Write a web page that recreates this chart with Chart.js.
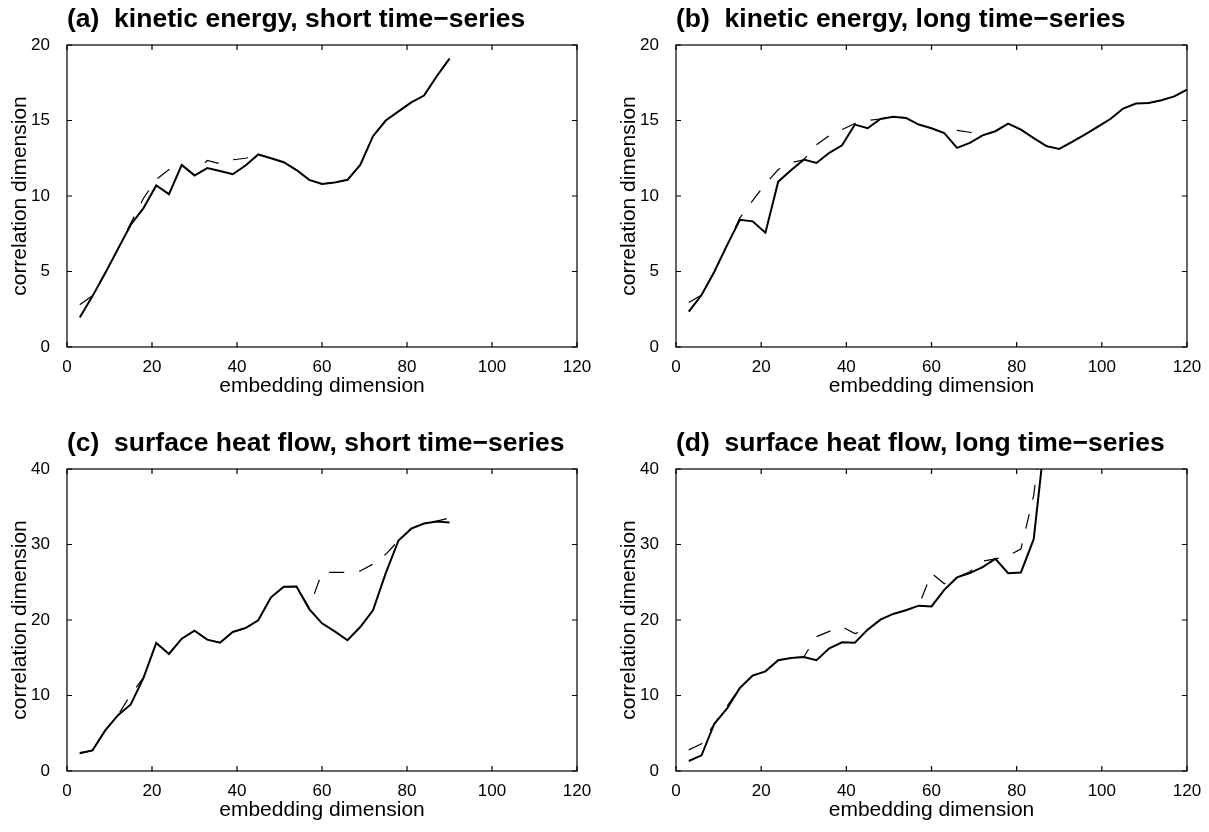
<!DOCTYPE html>
<html>
<head>
<meta charset="utf-8">
<script src="https://cdn.jsdelivr.net/npm/chart.js@4.4.0/dist/chart.umd.min.js"></script>
<style>
  html, body { margin: 0; padding: 0; background: #fff; }
  body { width: 1209px; height: 832px; position: relative; overflow: hidden; }
  canvas { position: absolute; }
</style>
</head>
<body>
<canvas id="chartA" width="604" height="408" style="left:0;top:0"></canvas>
<canvas id="chartB" width="605" height="408" style="left:604px;top:0"></canvas>
<canvas id="chartC" width="604" height="408" style="left:0;top:424px"></canvas>
<canvas id="chartD" width="605" height="408" style="left:604px;top:424px"></canvas>
<script>
// embedding dimensions
var dimsShort = [3, 6, 9, 12, 15, 18, 21, 24, 27, 30, 33, 36, 39, 42, 45, 48, 51, 54, 57, 60, 63, 66, 69, 72, 75, 78, 81, 84, 87, 90];
var dimsLong = [3, 6, 9, 12, 15, 18, 21, 24, 27, 30, 33, 36, 39, 42, 45, 48, 51, 54, 57, 60, 63, 66, 69, 72, 75, 78, 81, 84, 87, 90,
                93, 96, 99, 102, 105, 108, 111, 114, 117, 120];
var dimsHeatLong = [3, 6, 9, 12, 15, 18, 21, 24, 27, 30, 33, 36, 39, 42, 45, 48, 51, 54, 57, 60, 63, 66, 69, 72, 75, 78, 81, 84, 87];

// (a) kinetic energy, short
var keShortSolid = [1.95, 3.37, 4.9, 6.5, 8.1, 9.2, 10.7, 10.12, 12.06, 11.35, 11.85, 11.65, 11.44, 12.02, 12.75, 12.5, 12.24, 11.72, 11.07, 10.8,
                    10.9, 11.07, 12.06, 13.96, 15.0, 15.6, 16.2, 16.65, 17.93, 19.1];
var keShortDash = [2.8, 3.4, 4.9, 6.5, 8.2, 9.85, 11.1, 11.75, 12.05, 11.4, 12.35, 12.14, 12.4, 12.5, 12.77, 12.5, 12.24, 11.72, 11.07, 10.8,
                   10.9, 11.07, 12.06, 13.96, 15.0, 15.6, 16.2, 16.65, 17.93, 19.1];

// (b) kinetic energy, long
var keLongSolid = [2.34, 3.44, 4.98, 6.75, 8.42, 8.32, 7.57, 10.95, 11.7, 12.41, 12.19, 12.86, 13.36, 14.73, 14.49, 15.1, 15.24, 15.17, 14.73, 14.49,
                   14.16, 13.19, 13.52, 14.02, 14.29, 14.8, 14.4, 13.83, 13.3, 13.12, 13.58, 14.07, 14.58, 15.1, 15.79, 16.12, 16.16, 16.34, 16.6, 17.05];
var keLongDash = [2.95, 3.44, 4.98, 6.75, 8.55, 9.7, 10.8, 11.75, 12.2, 12.4, 13.4, 14.0, 14.4, 14.8, 15.0, 15.1, 15.24, 15.17, 14.73, 14.49,
                  14.16, 14.35, 14.22, 14.02, 14.29, 14.8, 14.4, 13.83, 13.3, 13.12, 13.58, 14.07, 14.58, 15.1, 15.79, 16.12, 16.16, 16.34, 16.6, 17.05];

// (c) surface heat flow, short
var heatShortSolid = [2.38, 2.73, 5.37, 7.4, 8.81, 12.33, 16.96, 15.5, 17.53, 18.59, 17.4, 17.0, 18.41, 18.94, 19.96, 23.0, 24.4, 24.45, 21.45, 19.56,
                      18.5, 17.31, 19.07, 21.28, 26.2, 30.53, 32.1, 32.78, 33.04, 32.9];
var heatShortDash = [2.3, 2.73, 5.37, 7.4, 10.1, 12.4, 16.96, 15.5, 17.53, 18.59, 17.4, 17.0, 18.41, 18.94, 19.96, 23.0, 24.4, 24.45, 21.6, 26.3,
                     26.3, 26.3, 26.5, 27.4, 28.7, 30.53, 32.1, 32.8, 33.1, 33.5];

// (d) surface heat flow, long
var heatLongSolid = [1.32, 2.07, 6.26, 8.28, 11.0, 12.64, 13.2, 14.67, 14.98, 15.1, 14.67, 16.26, 17.05, 17.0, 18.72, 20.04, 20.8, 21.3, 21.9, 21.8,
                     24.0, 25.64, 26.2, 27.0, 28.1, 26.2, 26.3, 30.7, 46];
var heatLongDash = [2.8, 3.6, 6.26, 8.6, 11.0, 12.64, 13.2, 14.67, 14.98, 15.1, 17.8, 18.5, 19.1, 18.2, 18.72, 20.04, 20.8, 21.3, 21.9, 26.2,
                    24.8, 25.64, 26.4, 27.8, 28.1, 28.5, 29.4, 36.5, 50];

var FONT = "'Liberation Sans', Arial, sans-serif";
Chart.defaults.font.family = FONT;
Chart.defaults.color = '#000';

// box round the axes with inward ticks on all four sides
var frame = {
    id: 'frame',
    afterDatasetsDraw: function(chart) {
        var ctx = chart.ctx, a = chart.chartArea;
        var xs = chart.scales.x, ys = chart.scales.y;
        ctx.save();
        ctx.strokeStyle = '#000';
        ctx.lineWidth = 1.2;
        ctx.beginPath();
        xs.ticks.forEach(function(t) {
            var px = xs.getPixelForValue(t.value);
            ctx.moveTo(px, a.bottom); ctx.lineTo(px, a.bottom - 5);
            ctx.moveTo(px, a.top); ctx.lineTo(px, a.top + 5);
        });
        ys.ticks.forEach(function(t) {
            var py = ys.getPixelForValue(t.value);
            ctx.moveTo(a.left, py); ctx.lineTo(a.left + 5, py);
            ctx.moveTo(a.right, py); ctx.lineTo(a.right - 5, py);
        });
        ctx.stroke();
        ctx.strokeRect(a.left, a.top, a.right - a.left, a.bottom - a.top);
        ctx.restore();
    }
};

function toPoints(xs, ys) {
    return xs.map(function(x, i) { return { x: x, y: ys[i] }; });
}

function makePanel(id, title, dims, solid, dashed, yMax, yStep, padLeft, padRight) {
    var ctx = document.getElementById(id).getContext('2d');
    return new Chart(ctx, {
        type: 'line',
        data: {
            datasets: [{
                data: toPoints(dims, solid),
                borderColor: '#000',
                borderWidth: 2,
                pointRadius: 0,
                tension: 0
            }, {
                data: toPoints(dims, dashed),
                borderColor: '#000',
                borderWidth: 1.2,
                borderDash: [15, 15],
                pointRadius: 0,
                tension: 0
            }]
        },
        options: {
            responsive: false,
            animation: false,
            devicePixelRatio: 1,
            layout: { padding: { left: padLeft, right: padRight, top: 0, bottom: 5 } },
            plugins: {
                legend: { display: false },
                tooltip: { enabled: false },
                title: {
                    display: true,
                    text: title,
                    align: 'start',
                    fullSize: false,
                    color: '#000',
                    font: { size: 26.5, weight: 'bold' },
                    padding: { top: 4, bottom: 9.2 }
                }
            },
            scales: {
                x: {
                    type: 'linear',
                    min: 0,
                    max: 120,
                    grid: { display: false },
                    border: { display: false },
                    ticks: { stepSize: 20, color: '#000', font: { size: 17 }, padding: 2, maxRotation: 0 },
                    title: { display: true, text: 'embedding dimension', color: '#000', font: { size: 21 }, padding: { top: 0, bottom: 4 } },
                    afterFit: function(s) { s.height = 56; }
                },
                y: {
                    min: 0,
                    max: yMax,
                    grid: { display: false },
                    border: { display: false },
                    ticks: { stepSize: yStep, color: '#000', font: { size: 17 }, padding: 9 },
                    title: { display: true, text: 'correlation dimension', color: '#000', font: { size: 21 }, padding: { top: 8, bottom: 0 } },
                    afterFit: function(s) { s.width = 67; }
                }
            }
        },
        plugins: [frame]
    });
}

makePanel('chartA', '(a)  kinetic energy, short time\u2212series', dimsShort, keShortSolid, keShortDash, 20, 5, 0, 27);
makePanel('chartB', '(b)  kinetic energy, long time\u2212series', dimsLong, keLongSolid, keLongDash, 20, 5, 5, 22);
makePanel('chartC', '(c)  surface heat flow, short time\u2212series', dimsShort, heatShortSolid, heatShortDash, 40, 10, 0, 27);
makePanel('chartD', '(d)  surface heat flow, long time\u2212series', dimsHeatLong, heatLongSolid, heatLongDash, 40, 10, 5, 22);
</script>
</body>
</html>
